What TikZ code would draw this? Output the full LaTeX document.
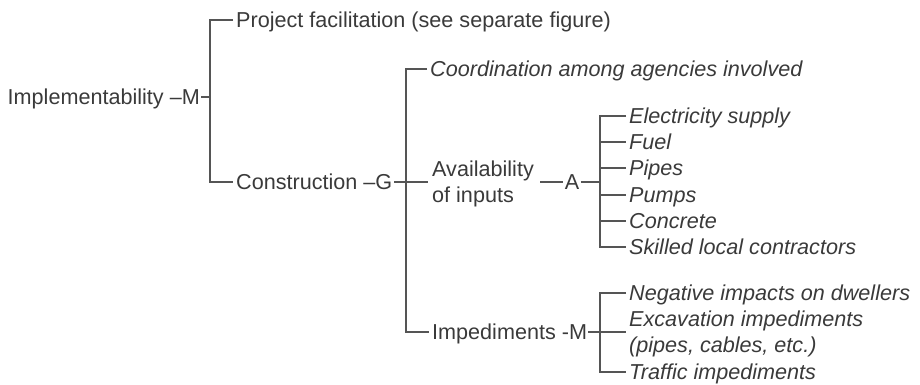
\documentclass[tikz,border=0pt]{standalone}
\usepackage{fontspec}
\setmainfont{Liberation Sans}
\definecolor{txt}{HTML}{3A3A3A}
\definecolor{ln}{HTML}{555555}
\begin{document}
\begin{tikzpicture}[x=1pt,y=-1pt,
  lbl/.style={inner sep=0pt, text=txt, font=\fontsize{21.6}{26}\selectfont, text height=15pt, text depth=0pt},
  mlbl/.style={inner sep=0pt, text=txt, font=\fontsize{21.6}{26}\selectfont, align=left},
  itm/.style={lbl, font=\fontsize{21.6}{26}\selectfont\itshape},
  mitm/.style={mlbl, font=\fontsize{21.6}{26}\selectfont\itshape},
  conn/.style={draw=ln, line width=1.4pt}]
\useasboundingbox (0,0) rectangle (920,385);
% level 0 and 1
\node[lbl, anchor=east] (impl) at (200,97) {Implementability –M};
\node[lbl, anchor=west] (proj) at (236,20) {Project facilitation (see separate figure)};
\node[lbl, anchor=west] (constr) at (236,182) {Construction –G};
\coordinate (j1) at (210,97);
\draw[conn] ([xshift=-3pt]proj.west) -| (j1) |- ([xshift=-3pt]constr.west);
\draw[conn] ([xshift=1pt]impl.east) -- (j1);
% level 2
\node[itm, anchor=west] (coord) at (430,69) {Coordination among agencies involved};
\node[mlbl, anchor=west] (avail) at (432,184) {Availability\\of inputs};
\node[lbl, anchor=west] (imped) at (432,332) {Impediments -M};
\coordinate (jG) at (406,182);
\draw[conn] ([xshift=-3pt]coord.west) -| (jG) |- ([xshift=-3pt]imped.west);
\draw[conn] ([xshift=2pt]constr.east) -- (jG) -- ([xshift=-4pt]avail.west |- jG);
% Availability -> A
\node[lbl, inner xsep=1.5pt] (A) at (572,182) {A};
\coordinate (jA) at (600,182);
\draw[conn] ([xshift=6pt]avail.east |- jA) -- (A.west);
\draw[conn] (A.east) -- (jA);
\node[itm, anchor=west] (e1) at (629,116) {Electricity supply};
\node[itm, anchor=west] (e2) at (629,142) {Fuel};
\node[itm, anchor=west] (e3) at (629,168) {Pipes};
\node[itm, anchor=west] (e4) at (629,195) {Pumps};
\node[itm, anchor=west] (e5) at (629,221) {Concrete};
\node[itm, anchor=west] (e6) at (629,247) {Skilled local contractors};
\draw[conn] ([xshift=-3pt]e1.west) -| (jA) |- ([xshift=-3pt]e6.west);
\foreach \n in {e2,e3,e4,e5} \draw[conn] (jA |- \n.west) -- ([xshift=-3pt]\n.west);
% Impediments -> M
\coordinate (jM) at (600,332);
\draw[conn] ([xshift=1pt]imped.east) -- (jM);
\node[itm, anchor=west] (n1) at (629,293) {Negative impacts on dwellers};
\node[mitm, anchor=west] (n2) at (629,334) {Excavation impediments\\(pipes, cables, etc.)};
\node[itm, anchor=west] (n4) at (629,372) {Traffic impediments};
\draw[conn] ([xshift=-3pt]n1.west) -| (jM) |- ([xshift=-3pt]n4.west);
\draw[conn] (jM) -- ([xshift=-3pt]n2.west |- jM);
\end{tikzpicture}
\end{document}
